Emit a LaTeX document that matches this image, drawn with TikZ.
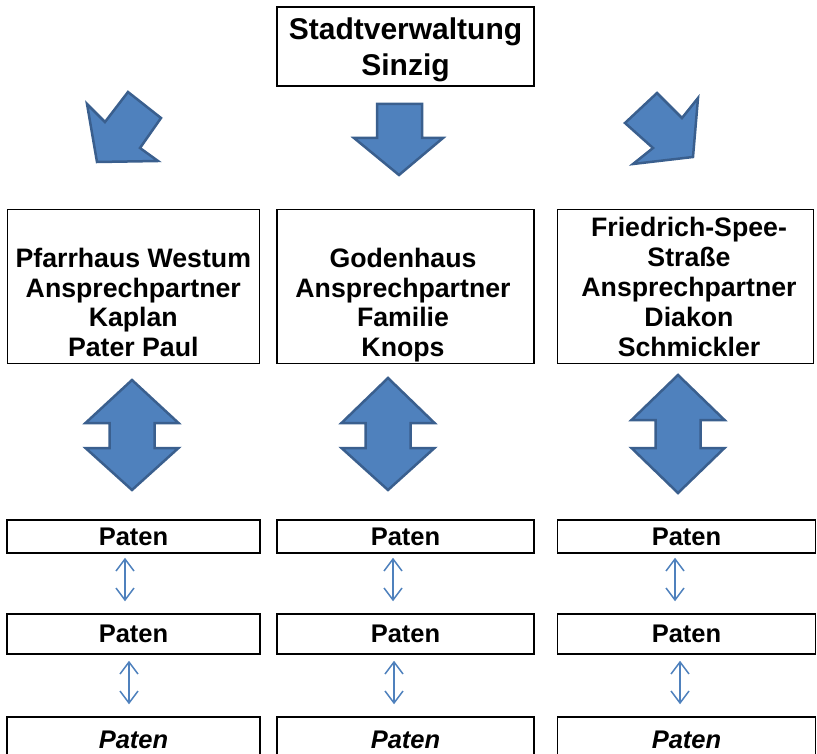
\documentclass[tikz,border=0pt]{standalone}
\usepackage{fontspec}
\setmainfont{Liberation Sans}
\usetikzlibrary{arrows.meta,calc}
\definecolor{blockfill}{HTML}{4F81BD}
\definecolor{blockline}{HTML}{3A5F8E}
\definecolor{thinblue}{HTML}{4F81BD}
\begin{document}
\begin{tikzpicture}[x=1pt,y=-1pt,
  box/.style={draw,line width=1.5pt,inner sep=0pt},
  toptext/.style={font=\fontsize{30}{36}\selectfont\bfseries,align=center,inner sep=0pt},
  midtext/.style={font=\fontsize{26.7}{29.5}\selectfont\bfseries,align=center,inner sep=0pt},
  righttext/.style={font=\fontsize{26.7}{30.2}\selectfont\bfseries,align=center,inner sep=0pt},
  patenbox/.style={box,font=\fontsize{25.5}{28}\selectfont\bfseries},
  blockarrow/.style={fill=blockfill,draw=blockline,line width=2.5pt,line join=miter},
  thinarrow/.style={draw=thinblue,line width=1.5pt,{Straight Barb[length=12pt,width=18pt]}-{Straight Barb[length=12pt,width=18pt]}}
]
\useasboundingbox (0,0) rectangle (817,754);

% top box
\node[box,minimum width=257pt,minimum height=79pt] (top) at (405.5,46.5) {};
\node[toptext] (toptxt) at (405.5,50) {Stadtverwaltung\\Sinzig};

% block arrows from top
\draw[blockarrow] (87,104) -- (105,122) -- (128,92) -- (161,118) -- (140,148) -- (158,161) -- (97,162) -- cycle;
\draw[blockarrow] (377,104) -- (422,104) -- (422,138) -- (443,138) -- (399,175) -- (354,138) -- (377,138) -- cycle;
\draw[blockarrow] (625,123) -- (657,93) -- (682,118) -- (698,98) -- (693,157) -- (633,164) -- (653,148) -- cycle;

% middle boxes
\node[box,minimum width=252pt,minimum height=154pt] (lbox) at (133.3,286.3) {};
\node[box,minimum width=257pt,minimum height=154pt] (mbox) at (405.5,286.3) {};
\node[box,minimum width=256pt,minimum height=154pt] (rbox) at (685.3,286.3) {};
\node[midtext] (ltxt) at (133.3,302.5) {Pfarrhaus Westum\\Ansprechpartner\hspace*{18pt}\\Kaplan\\Pater Paul};
\node[midtext] (mtxt) at (403,305) {Godenhaus\\Ansprechpartner\\Familie\\Knops};
\node[righttext] (rtxt) at (689,287) {Friedrich-Spee-\\Straße\\Ansprechpartner\\Diakon\\Schmickler};

% double block arrows
\foreach \cx/\tt/\hb/\lh/\bt in {132/380/423/448/490, 388/378/423/448/490, 678/375/420/448/493}{
  \draw[blockarrow] (\cx,\tt) -- (\cx+46.5,\hb) -- (\cx+22.5,\hb) -- (\cx+22.5,\lh) -- (\cx+46.5,\lh)
    -- (\cx,\bt) -- (\cx-46.5,\lh) -- (\cx-22.5,\lh) -- (\cx-22.5,\hb) -- (\cx-46.5,\hb) -- cycle;
}

% Paten boxes
\foreach \n/\cx/\w in {l/133.5/253, m/405.5/257, r/686.5/258}{
  \node[patenbox,minimum width=\w pt,minimum height=33pt] (\n1) at (\cx,536.5) {Paten};
  \node[patenbox,minimum width=\w pt,minimum height=40pt] (\n2) at (\cx,634) {Paten};
  \node[patenbox,minimum width=\w pt,minimum height=46pt] (\n3) at (\cx,740) {\itshape Paten};
}

% thin arrows
\draw[thinarrow,shorten <=4pt,shorten >=12pt] ([xshift=-8.5pt]l1.south) -- ([xshift=-8.5pt]l2.north);
\draw[thinarrow,shorten <=6pt,shorten >=12pt] ([xshift=-4.5pt]l2.south) -- ([xshift=-4.5pt]l3.north);
\draw[thinarrow,shorten <=4pt,shorten >=12pt] ([xshift=-12.5pt]m1.south) -- ([xshift=-12.5pt]m2.north);
\draw[thinarrow,shorten <=6pt,shorten >=12pt] ([xshift=-11.5pt]m2.south) -- ([xshift=-11.5pt]m3.north);
\draw[thinarrow,shorten <=4pt,shorten >=12pt] ([xshift=-11.5pt]r1.south) -- ([xshift=-11.5pt]r2.north);
\draw[thinarrow,shorten <=6pt,shorten >=12pt] ([xshift=-6.5pt]r2.south) -- ([xshift=-6.5pt]r3.north);
\end{tikzpicture}
\end{document}
